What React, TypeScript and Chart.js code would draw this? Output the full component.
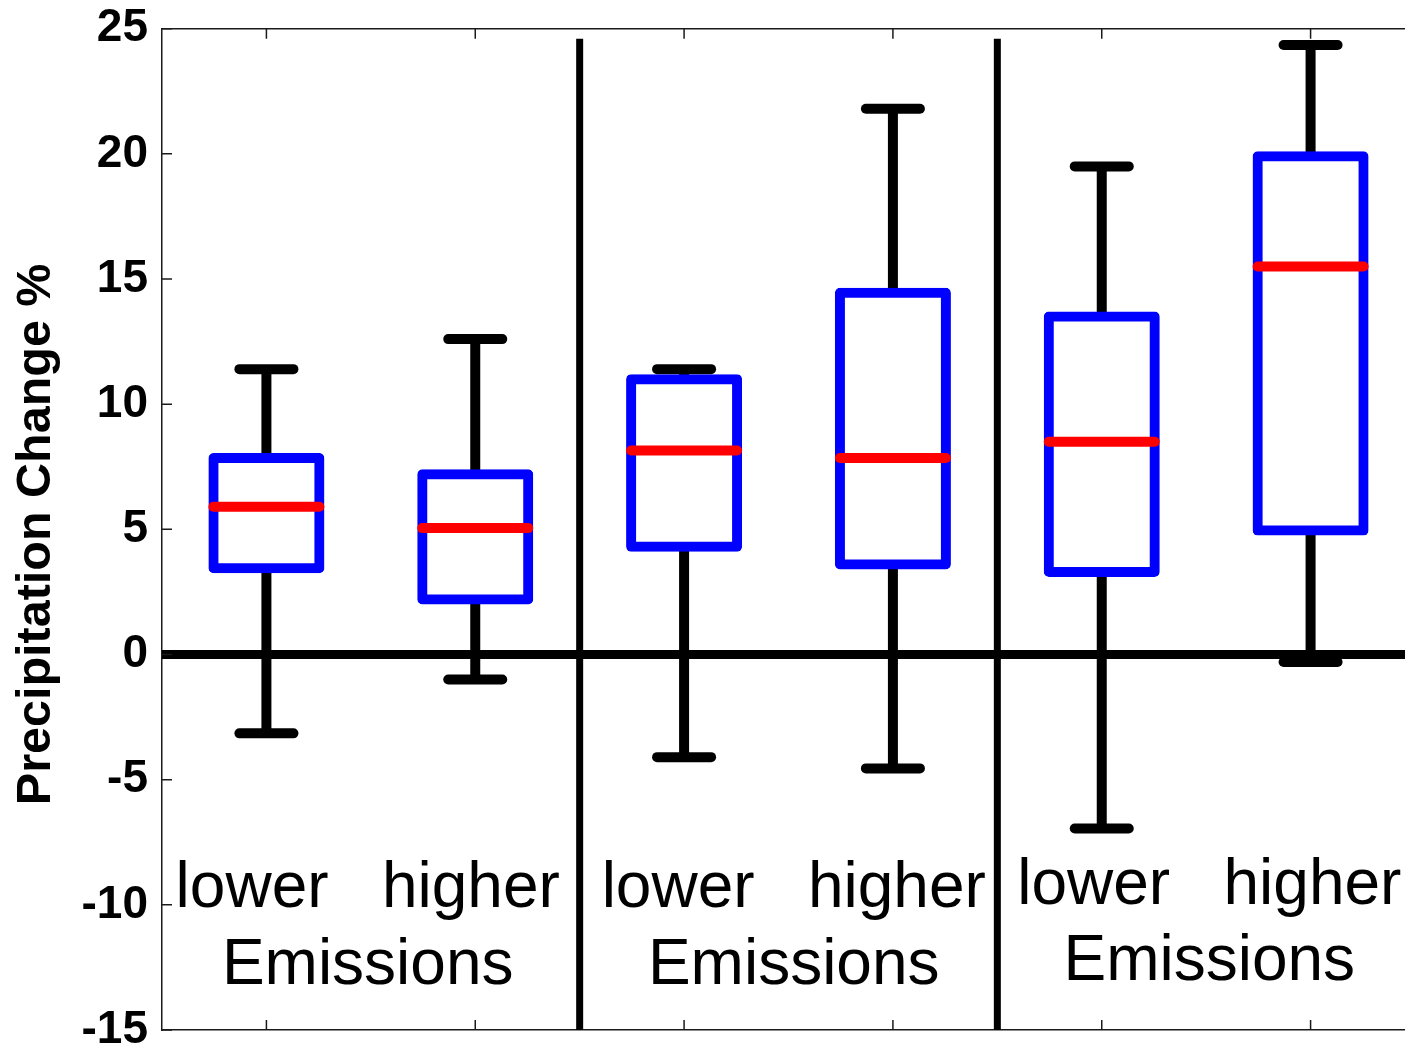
import React, { useEffect, useRef } from 'react';
import { Chart, registerables } from 'chart.js';

Chart.register(...registerables);

// ---------- data ----------
const positions = [1, 2, 3, 4, 5, 6];
const boxLabels = ['lower', 'higher', 'lower', 'higher', 'lower', 'higher'];
const whiskerLow = [-3.15, -1.0, -4.1, -4.55, -6.95, -0.3];
const quartile1 = [3.45, 2.2, 4.3, 3.6, 3.3, 4.95];
const medians = [5.9, 5.05, 8.15, 7.85, 8.5, 15.5];
const quartile3 = [7.85, 7.2, 11.0, 14.45, 13.5, 19.9];
const whiskerHigh = [11.4, 12.6, 11.4, 21.8, 19.5, 24.35];

const yMin = -15;
const yMax = 25;
const yStep = 5;
const yTitle = 'Precipitation Change %';
const yTitleCenter = 4.8;

const groupCenters = [1.485, 3.525, 5.515];
const groupLine1 = 'lower   higher';
const groupLine2 = 'Emissions';
const groupLine1Y = [-10.1, -10.1, -9.95];
const groupLine2Y = [-13.15, -13.15, -13.0];
const separatorX = [2.5, 4.5];
const separatorTop = 24.6;

const FONT = '"Liberation Sans", Arial, Helvetica, sans-serif';
const AXIS_COLOR = '#1a1a1a';

const decorPlugin = {
  id: 'decor',
  beforeDatasetDraw(chart: any, args: any) {
    const ds = chart.data.datasets[args.index];
    if (ds && ds.roundCap) chart.ctx.lineCap = 'round';
  },
  afterDatasetDraw(chart: any) {
    chart.ctx.lineCap = 'butt';
  },
  afterDraw(chart: any) {
    const { ctx, chartArea, scales } = chart;
    const xs = scales.x;
    const ys = scales.y;
    ctx.save();
    ctx.strokeStyle = AXIS_COLOR;
    ctx.lineWidth = 1.5;
    ctx.lineCap = 'butt';
    ctx.beginPath();
    ys.ticks.forEach((t: any) => {
      const py = ys.getPixelForValue(t.value);
      ctx.moveTo(chartArea.left, py);
      ctx.lineTo(chartArea.left + 10, py);
      ctx.moveTo(chartArea.right, py);
      ctx.lineTo(chartArea.right - 10, py);
    });
    positions.forEach((p) => {
      const px = xs.getPixelForValue(p);
      ctx.moveTo(px, chartArea.bottom);
      ctx.lineTo(px, chartArea.bottom - 10);
      ctx.moveTo(px, chartArea.top);
      ctx.lineTo(px, chartArea.top + 10);
    });
    ctx.stroke();

    // group annotations inside the plot
    ctx.fillStyle = '#000';
    ctx.font = `64px ${FONT}`;
    ctx.textAlign = 'center';
    ctx.textBaseline = 'alphabetic';
    groupCenters.forEach((g, i) => {
      const px = xs.getPixelForValue(g);
      ctx.fillText(groupLine1, px, ys.getPixelForValue(groupLine1Y[i]));
      ctx.fillText(groupLine2, px, ys.getPixelForValue(groupLine2Y[i]));
    });

    // y-axis title
    ctx.save();
    ctx.translate(50, ys.getPixelForValue(yTitleCenter));
    ctx.rotate(-Math.PI / 2);
    ctx.font = `bold 48.5px ${FONT}`;
    ctx.textAlign = 'center';
    ctx.textBaseline = 'alphabetic';
    ctx.fillText(yTitle, 0, 0);
    ctx.restore();

    ctx.restore();
  },
};

export default function App() {
  const canvasRef = useRef<HTMLCanvasElement | null>(null);

  useEffect(() => {
    if (!canvasRef.current) return;

    const whiskerSets = positions.map((p, i) => ({
      type: 'line',
      label: `whisker ${boxLabels[i]} ${i}`,
      data: [
        { x: p, y: whiskerLow[i] },
        { x: p, y: whiskerHigh[i] },
      ],
      borderColor: '#000',
      borderWidth: 10,
      pointRadius: 0,
      order: 3,
    }));

    const separatorSets = separatorX.map((sx) => ({
      type: 'line',
      label: 'separator',
      data: [
        { x: sx, y: yMin },
        { x: sx, y: separatorTop },
      ],
      borderColor: '#000',
      borderWidth: 7,
      pointRadius: 0,
      order: 4,
    }));

    const chart = new Chart(canvasRef.current, {
      type: 'bar',
      data: {
        datasets: [
          {
            type: 'line',
            label: 'medians',
            data: positions.map((p, i) => ({ x: p, y: medians[i] })),
            showLine: false,
            pointStyle: 'line',
            pointRadius: 53,
            pointBorderWidth: 10,
            pointBorderColor: '#ff0000',
            pointBackgroundColor: '#ff0000',
            roundCap: true,
            order: 0,
          } as any,
          {
            type: 'bar',
            label: 'boxes',
            data: positions.map((p, i) => ({ x: p, y: [quartile1[i], quartile3[i]] })),
            backgroundColor: '#ffffff',
            borderColor: '#0000ff',
            borderWidth: 10,
            borderSkipped: false,
            borderRadius: 5,
            inflateAmount: 5,
            barThickness: 106,
            order: 1,
          } as any,
          {
            type: 'line',
            label: 'caps',
            data: positions.flatMap((p, i) => [
              { x: p, y: whiskerLow[i] },
              { x: p, y: whiskerHigh[i] },
            ]),
            showLine: false,
            pointStyle: 'line',
            pointRadius: 27,
            pointBorderWidth: 10,
            pointBorderColor: '#000',
            pointBackgroundColor: '#000',
            roundCap: true,
            order: 2,
          } as any,
          ...(whiskerSets as any[]),
          {
            type: 'line',
            label: 'zero',
            data: [
              { x: 0.5, y: 0 },
              { x: 6.5, y: 0 },
            ],
            borderColor: '#000',
            borderWidth: 9,
            pointRadius: 0,
            order: 4,
          } as any,
          ...(separatorSets as any[]),
        ],
      },
      options: {
        responsive: false,
        animation: false,
        events: [],
        layout: { autoPadding: false, padding: { left: 0, right: 15, top: 28.7, bottom: 0 } },
        plugins: {
          legend: { display: false },
          tooltip: { enabled: false },
        },
        scales: {
          x: {
            type: 'linear',
            position: 'bottom',
            min: 0.5,
            max: 6.5,
            offset: false,
            ticks: { display: false },
            grid: { display: false, drawTicks: false },
            border: { display: true, color: AXIS_COLOR, width: 1.5 },
            afterFit: (s: any) => {
              s.height = 18;
              s.paddingLeft = 0;
              s.paddingRight = 0;
            },
          },
          x2: {
            type: 'linear',
            position: 'top',
            min: 0.5,
            max: 6.5,
            offset: false,
            ticks: { display: false },
            grid: { display: false, drawTicks: false },
            border: { display: true, color: AXIS_COLOR, width: 1.5 },
            afterFit: (s: any) => {
              s.height = 0;
              s.paddingLeft = 0;
              s.paddingRight = 0;
            },
          },
          y: {
            type: 'linear',
            position: 'left',
            min: yMin,
            max: yMax,
            ticks: {
              stepSize: yStep,
              autoSkip: false,
              padding: 14,
              color: '#000',
              font: { family: FONT, size: 46, weight: 'bold' },
            },
            grid: { display: false, drawTicks: false },
            border: { display: true, color: AXIS_COLOR, width: 1.5 },
            title: { display: false, text: yTitle },
            afterFit: (s: any) => {
              s.width = 162;
              s.paddingTop = 0;
              s.paddingBottom = 0;
            },
          },
          y2: {
            type: 'linear',
            position: 'right',
            min: yMin,
            max: yMax,
            ticks: { display: false },
            grid: { display: false, drawTicks: false },
            border: { display: true, color: AXIS_COLOR, width: 1.5 },
            afterFit: (s: any) => {
              s.width = 0;
              s.paddingTop = 0;
              s.paddingBottom = 0;
            },
          },
        },
      } as any,
      plugins: [decorPlugin as any],
    });

    return () => chart.destroy();
  }, []);

  return (
    <div
      style={{
        position: 'fixed',
        left: 0,
        top: 0,
        width: 1405,
        height: 1048,
        overflow: 'hidden',
        background: '#fff',
      }}
    >
      <canvas ref={canvasRef} width={1430} height={1048} style={{ display: 'block', width: 1430, height: 1048 }} />
    </div>
  );
}
